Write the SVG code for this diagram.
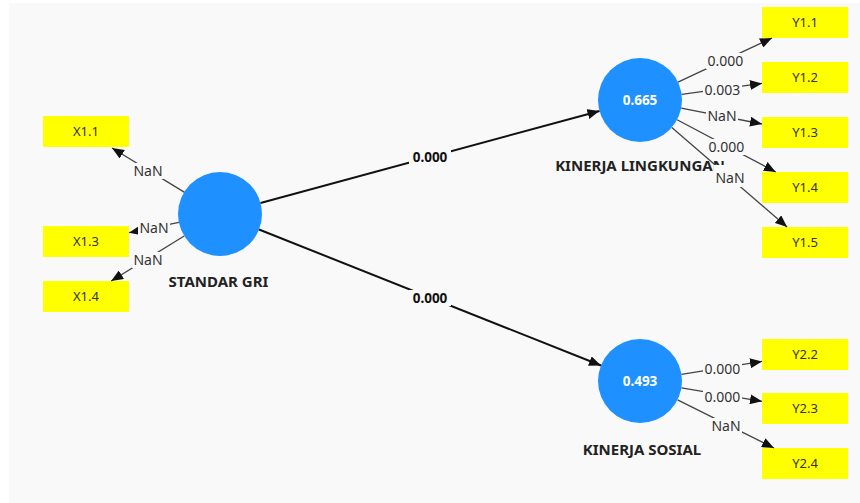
<svg xmlns="http://www.w3.org/2000/svg" width="860" height="503" viewBox="0 0 860 503">
<defs>
<style>
.bg{fill:#f9f9f9}
.ind rect{fill:#ffff00}
.ind text{font-family:"Noto Sans","Open Sans",sans-serif;font-size:13px;fill:#333;text-anchor:middle}
.lv circle{fill:#1e90ff}
.lv .val{font-family:"Noto Sans","Open Sans",sans-serif;font-size:13.5px;font-weight:bold;fill:#fff;text-anchor:middle}
.lv .name{font-family:"Noto Sans","Open Sans",sans-serif;font-size:15px;font-weight:bold;fill:#222;text-anchor:middle}
.inner{stroke:#111;stroke-width:2;fill:none;marker-end:url(#ah)}
.outer{stroke:#444;stroke-width:1.3;fill:none;marker-end:url(#ah)}
.lbl rect{fill:#f9f9f9}
.lbl text{font-family:"Noto Sans","Open Sans",sans-serif;font-size:14px;fill:#333;text-anchor:middle}
.lbl .b{font-weight:bold;fill:#111;font-size:13.5px}
</style>
<marker id="ah" markerUnits="userSpaceOnUse" markerWidth="12" markerHeight="10" refX="12" refY="5" orient="auto">
<path d="M0,0 L12,5 L0,10 z" fill="#111"/>
</marker>
</defs>
<rect width="860" height="503" fill="#fff"/>
<rect class="bg" x="9" y="3" width="851" height="500"/>

<g id="X1.1" class="ind"><rect x="43" y="116" width="86" height="31"/><text x="86" y="136">X1.1</text></g>
<g id="X1.3" class="ind"><rect x="43" y="226" width="86" height="31"/><text x="86" y="246">X1.3</text></g>
<g id="X1.4" class="ind"><rect x="43" y="281" width="86" height="31"/><text x="86" y="301">X1.4</text></g>
<g id="Y1.1" class="ind"><rect x="762" y="7" width="86" height="31"/><text x="805" y="27">Y1.1</text></g>
<g id="Y1.2" class="ind"><rect x="762" y="62" width="86" height="31"/><text x="805" y="82">Y1.2</text></g>
<g id="Y1.3" class="ind"><rect x="762" y="117" width="86" height="31"/><text x="805" y="137">Y1.3</text></g>
<g id="Y1.4" class="ind"><rect x="762" y="172" width="86" height="31"/><text x="805" y="192">Y1.4</text></g>
<g id="Y1.5" class="ind"><rect x="762" y="227" width="86" height="31"/><text x="805" y="247">Y1.5</text></g>
<g id="Y2.2" class="ind"><rect x="762" y="339" width="86" height="31"/><text x="805" y="359">Y2.2</text></g>
<g id="Y2.3" class="ind"><rect x="762" y="393" width="86" height="31"/><text x="805" y="413">Y2.3</text></g>
<g id="Y2.4" class="ind"><rect x="762" y="448" width="86" height="31"/><text x="805" y="468">Y2.4</text></g>

<g id="STANDAR_GRI" class="lv"><circle cx="220" cy="214" r="42"/><text class="name" x="218.5" y="287">STANDAR GRI</text></g>
<g id="KINERJA_LINGKUNGAN" class="lv"><circle cx="640" cy="100" r="42"/><text class="val" x="640" y="105">0.665</text><text class="name" x="640" y="171">KINERJA LINGKUNGAN</text></g>
<g id="KINERJA_SOSIAL" class="lv"><circle cx="640" cy="381" r="42"/><text class="val" x="640" y="386">0.493</text><text class="name" x="642" y="455">KINERJA SOSIAL</text></g>

<g id="connectors">
<line class="inner" x1="260.5" y1="203" x2="599.5" y2="111"/>
<line class="inner" x1="259" y1="229.5" x2="601" y2="365.5"/>
<line class="outer" x1="184.2" y1="192.1" x2="112" y2="148"/>
<line class="outer" x1="178.9" y1="222.4" x2="129" y2="232.7"/>
<line class="outer" x1="184.2" y1="236" x2="111.2" y2="281"/>
<line class="outer" x1="678" y1="82.1" x2="772" y2="38"/>
<line class="outer" x1="681.6" y1="94.3" x2="762" y2="83.4"/>
<line class="outer" x1="681.2" y1="108.1" x2="762" y2="124"/>
<line class="outer" x1="677.1" y1="119.7" x2="775.8" y2="172"/>
<line class="outer" x1="671.8" y1="127.5" x2="787.1" y2="227"/>
<line class="outer" x1="681.5" y1="374.3" x2="762" y2="361.4"/>
<line class="outer" x1="681.4" y1="387.9" x2="762" y2="401.3"/>
<line class="outer" x1="677.6" y1="399.8" x2="774" y2="448"/>
<g class="lbl">
<rect x="409" y="149" width="42" height="16"/><text class="b" x="430" y="162">0.000</text>
<rect x="409" y="290" width="42" height="16"/><text class="b" x="430" y="303">0.000</text>
<rect x="132" y="163" width="32" height="16"/><text x="148" y="176">NaN</text>
<rect x="138" y="220" width="32" height="16"/><text x="154" y="233">NaN</text>
<rect x="132" y="252" width="32" height="16"/><text x="148" y="265">NaN</text>
<rect x="706" y="53" width="39" height="16"/><text x="725.5" y="66">0.000</text>
<rect x="703" y="82" width="39" height="16"/><text x="722.5" y="95">0.003</text>
<rect x="706" y="108" width="32" height="16"/><text x="722" y="121">NaN</text>
<rect x="707" y="139" width="39" height="16"/><text x="726.5" y="152">0.000</text>
<rect x="714" y="165" width="32" height="22"/><text x="730" y="183">NaN</text>
<rect x="703" y="361" width="39" height="16"/><text x="722.5" y="374">0.000</text>
<rect x="703" y="389" width="39" height="16"/><text x="722.5" y="402">0.000</text>
<rect x="710" y="418" width="32" height="16"/><text x="726" y="431">NaN</text>
</g>
</g>
</svg>
